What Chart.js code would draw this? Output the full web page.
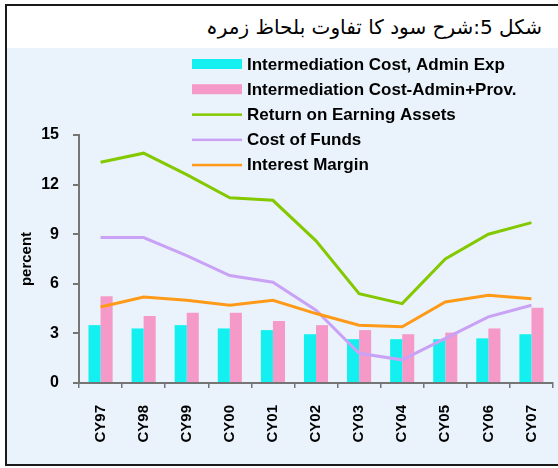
<!DOCTYPE html>
<html>
<head>
<meta charset="utf-8">
<script src="https://cdn.jsdelivr.net/npm/chart.js@4.4.1/dist/chart.umd.min.js"></script>
<style>
  html, body { margin: 0; padding: 0; background: #ffffff; }
  #wrap { position: relative; width: 558px; height: 468px; overflow: hidden; background: #ffffff; }
  #panel { position: absolute; left: 7px; top: 6px; width: 551px; height: 458px; background: #eaf3fb; }
  #band { position: absolute; left: 7px; top: 6px; width: 551px; height: 42px; background: #ffffff; }
  #frameTop { position: absolute; left: 5px; top: 4px; width: 553px; height: 2px; background: #1a1a1a; }
  #frameLeft { position: absolute; left: 5px; top: 4px; width: 2px; height: 462px; background: #1a1a1a; }
  #frameBottom { position: absolute; left: 5px; top: 464px; width: 553px; height: 2px; background: #1a1a1a; }
  #title { position: absolute; right: 16px; top: 15px; font-family: "DejaVu Sans", sans-serif; font-size: 20px; color: #000; direction: rtl; white-space: nowrap; }
  canvas { position: absolute; left: 0; top: 0; }
</style>
</head>
<body>
<div id="wrap">
  <div id="panel"></div>
  <div id="band"></div>
  <div id="frameTop"></div>
  <div id="frameLeft"></div>
  <div id="frameBottom"></div>
  <div id="title">شکل 5:شرح سود کا تفاوت بلحاظ زمرہ</div>
  <canvas id="c" width="558" height="468"></canvas>
</div>
<script>
// ---- data ----
const categories = ["CY97", "CY98", "CY99", "CY00", "CY01", "CY02", "CY03", "CY04", "CY05", "CY06", "CY07"];
const seriesLabels = [
  "Intermediation Cost, Admin Exp",
  "Intermediation Cost-Admin+Prov.",
  "Return on Earning Assets",
  "Cost of Funds",
  "Interest Margin"
];
const adminExp   = [3.5, 3.3, 3.5, 3.3, 3.2, 2.95, 2.65, 2.65, 2.65, 2.7, 2.95];
const adminProv  = [5.25, 4.05, 4.25, 4.25, 3.75, 3.5, 3.2, 2.95, 3.05, 3.3, 4.55];
const returnEA   = [13.35, 13.9, 12.6, 11.2, 11.05, 8.6, 5.4, 4.8, 7.5, 9.0, 9.7];
const costFunds  = [8.8, 8.8, 7.7, 6.5, 6.1, 4.4, 1.8, 1.4, 2.7, 4.0, 4.7];
const intMargin  = [4.6, 5.2, 5.0, 4.7, 5.0, 4.2, 3.5, 3.4, 4.9, 5.3, 5.1];
const yMin = 0, yMax = 15, yStep = 3;
const yTitle = "percent";

// ---- styles ----
const colors = ["#14f0f0", "#f59ac8", "#84c800", "#c9a2f5", "#ff9a18"];

const legendPlugin = {
  id: 'customLegend',
  afterDraw(chart) {
    const ctx = chart.ctx;
    const x0 = 192, sw = 50, tx = 247, y0 = 64, dy = 25.2;
    ctx.save();
    ctx.font = 'bold 17px "Liberation Sans", Arial, sans-serif';
    ctx.textBaseline = 'middle';
    ctx.textAlign = 'left';
    chart.data.datasets.forEach((ds, i) => {
      const cy = y0 + i * dy;
      ctx.fillStyle = ds.legendColor;
      if (ds.type === 'line') {
        ctx.fillRect(x0, cy - 1, sw, 2.5);
      } else {
        ctx.fillRect(x0, cy - 5, sw, 10);
      }
      ctx.fillStyle = '#000';
      ctx.fillText(ds.label, tx, cy + 1);
    });
    ctx.restore();
  }
};

const axisColor = '#757575';
new Chart(document.getElementById('c'), {
  type: 'bar',
  data: {
    labels: categories,
    datasets: [
      { type: 'bar', label: seriesLabels[0], data: adminExp, backgroundColor: colors[0], legendColor: colors[0], order: 2,
        barPercentage: 1, categoryPercentage: 0.56 },
      { type: 'bar', label: seriesLabels[1], data: adminProv, backgroundColor: colors[1], legendColor: colors[1], order: 2,
        barPercentage: 1, categoryPercentage: 0.56 },
      { type: 'line', label: seriesLabels[2], data: returnEA, borderColor: colors[2], legendColor: colors[2], borderWidth: 3,
        pointRadius: 0, tension: 0, order: 0 },
      { type: 'line', label: seriesLabels[3], data: costFunds, borderColor: colors[3], legendColor: colors[3], borderWidth: 3,
        pointRadius: 0, tension: 0, order: 1 },
      { type: 'line', label: seriesLabels[4], data: intMargin, borderColor: colors[4], legendColor: colors[4], borderWidth: 3,
        pointRadius: 0, tension: 0, order: 0 }
    ]
  },
  options: {
    responsive: false,
    animation: false,
    layout: { padding: { left: 0, right: 5, top: 135, bottom: 0 } },
    plugins: { legend: { display: false }, tooltip: { enabled: false }, title: { display: false } },
    scales: {
      x: {
        grid: { drawOnChartArea: false, drawTicks: true, tickLength: 5, color: axisColor, lineWidth: 1.5, offset: true },
        border: { display: true, color: axisColor, width: 2 },
        ticks: { color: '#000', font: { family: '"Liberation Sans", Arial, sans-serif', size: 15, weight: 'bold' },
                 minRotation: 90, maxRotation: 90, padding: 17, autoSkip: false },
        afterFit(scale) { scale.height = 85; scale.paddingLeft = 0; scale.paddingRight = 0; }
      },
      y: {
        min: yMin, max: yMax,
        grid: { drawOnChartArea: false, drawTicks: true, tickLength: 6, color: axisColor, lineWidth: 2 },
        border: { display: true, color: axisColor, width: 2 },
        ticks: { stepSize: yStep, color: '#000', padding: 14,
                 font: { family: '"Liberation Sans", Arial, sans-serif', size: 16, weight: 'bold' } },
        title: { display: true, text: yTitle, color: '#000', padding: { top: 18, bottom: 0 },
                 font: { family: '"Liberation Sans", Arial, sans-serif', size: 15, weight: 'bold' } },
        afterFit(scale) { scale.width = 79; }
      }
    }
  },
  plugins: [legendPlugin]
});
</script>
</body>
</html>
